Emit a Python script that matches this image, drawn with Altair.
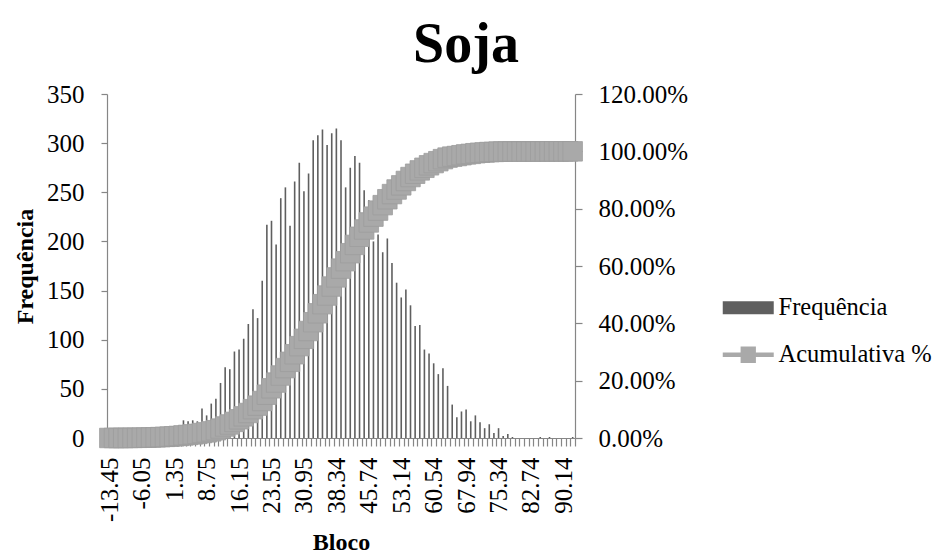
import json
import altair as alt
import pandas as pd

# ---- data ----
blocos = [
    "-13.45", "-12.39", "-11.34", "-10.28", "-9.22", "-8.16", "-7.11", "-6.05", "-4.99", "-3.94",
    "-2.88", "-1.82", "-0.77", "0.29", "1.35", "2.41", "3.46", "4.52", "5.58", "6.63",
    "7.69", "8.75", "9.80", "10.86", "11.92", "12.98", "14.03", "15.09", "16.15", "17.20",
    "18.26", "19.32", "20.37", "21.43", "22.49", "23.55", "24.60", "25.66", "26.72", "27.77",
    "28.83", "29.89", "30.95", "32.00", "33.06", "34.12", "35.17", "36.23", "37.29", "38.34",
    "39.40", "40.46", "41.52", "42.57", "43.63", "44.69", "45.74", "46.80", "47.86", "48.91",
    "49.97", "51.03", "52.09", "53.14", "54.20", "55.26", "56.31", "57.37", "58.43", "59.49",
    "60.54", "61.60", "62.66", "63.71", "64.77", "65.83", "66.88", "67.94", "69.00", "70.06",
    "71.11", "72.17", "73.23", "74.28", "75.34", "76.40", "77.45", "78.51", "79.57", "80.63",
    "81.68", "82.74", "83.80", "84.85", "85.91", "86.97", "88.02", "89.08", "90.14", "91.20",
    "92.25",
]

frequencia = [
    1, 0, 0, 1, 1, 1, 2, 3, 4, 5,
    6, 7, 8, 9, 11, 12, 18, 17, 18, 17,
    30, 23, 35, 40, 56, 72, 70, 88, 90, 101,
    116, 131, 122, 160, 217, 221, 197, 244, 255, 216,
    261, 280, 251, 269, 303, 308, 314, 298, 310, 315,
    303, 255, 275, 287, 280, 252, 242, 200, 207, 189,
    203, 178, 158, 143, 151, 135, 114, 115, 90, 86,
    76, 65, 71, 53, 34, 21, 27, 29, 17, 23,
    16, 10, 14, 5, 10, 2, 4, 1, 0, 0,
    0, 0, 0, 1, 0, 1, 0, 0, 0, 0,
    1,
]

rotulos_x = ["-13.45", "-6.05", "1.35", "8.75", "16.15", "23.55", "30.95", "38.34",
             "45.74", "53.14", "60.54", "67.94", "75.34", "82.74", "90.14"]
ticks_freq = [0, 50, 100, 150, 200, 250, 300, 350]
ticks_pct = [0, 0.2, 0.4, 0.6, 0.8, 1.0, 1.2]

df = pd.DataFrame({"Bloco": blocos, "Frequencia": frequencia, "ordem": list(range(len(blocos)))})
df["serie_barra"] = "Frequência"
df["serie_linha"] = "Acumulativa %"

FONT = "Liberation Serif"
AX = "#868686"
BAR = "#5f5f5f"
LINE = "#a9a9a9"

label_expr = "indexof(" + json.dumps(rotulos_x) + ", datum.label) >= 0 ? datum.label : ''"

x_enc = alt.X(
    "Bloco:N",
    sort=blocos,
    scale=alt.Scale(paddingInner=0, paddingOuter=0),
    axis=alt.Axis(
        title="Bloco", labelExpr=label_expr, labelAngle=270, labelOverlap=False,
        labelFlush=False, tickBand="extent", tickSize=8, labelPadding=11,
        titleX=234, titleY=104, titleBaseline="middle", titleAlign="center",
    ),
)

base = alt.Chart(df)

bars = base.mark_bar(size=1.6).encode(
    x=x_enc,
    y=alt.Y(
        "Frequencia:Q",
        scale=alt.Scale(domain=[0, 350], nice=False),
        axis=alt.Axis(
            values=ticks_freq, title="Frequência", orient="left", tickSize=6,
            labelPadding=17, titleAngle=270, titleX=-82, titleY=172,
            titleAlign="center", titleBaseline="middle",
        ),
    ),
    color=alt.Color(
        "serie_barra:N",
        scale=alt.Scale(range=[BAR]),
        legend=alt.Legend(
            title=None, orient="none", legendX=629, legendY=201.5,
            symbolType="M-2.5,-0.64H2.5V0.64H-2.5Z", symbolSize=416,
            symbolStrokeWidth=0, labelOffset=18, padding=0,
        ),
    ),
)

cum = base.transform_window(
    acum="sum(Frequencia)", sort=[alt.SortField("ordem")], frame=[None, 0]
).transform_joinaggregate(total="sum(Frequencia)").transform_calculate(
    pct="datum.acum / datum.total"
)

y_pct = alt.Y(
    "pct:Q",
    scale=alt.Scale(domain=[0, 1.2], nice=False),
    axis=alt.Axis(values=ticks_pct, format=".2%", title=None, orient="right",
                  tickSize=7, labelPadding=16),
)

line = cum.mark_line(color=LINE, strokeWidth=4).encode(x=x_enc, y=y_pct)

points = cum.mark_point(
    shape="square", filled=True, size=380, fill=LINE, stroke="#9d9d9d", strokeWidth=0.8
).encode(
    x=x_enc,
    y=y_pct,
    opacity=alt.Opacity(
        "serie_linha:N",
        scale=alt.Scale(range=[1, 1]),
        legend=alt.Legend(
            title=None, orient="none", legendX=629, legendY=248.5,
            symbolType="M-2.5,-0.22H2.5V0.22H-2.5Z M-0.75,-0.8H0.75V0.8H-0.75Z",
            symbolSize=416, symbolStrokeWidth=0, symbolFillColor=LINE,
            symbolOpacity=1, labelOffset=18, padding=0,
        ),
    ),
)

chart = alt.layer(bars, alt.layer(line, points)).resolve_scale(y="independent").properties(
    width=468,
    height=344,
    autosize=alt.AutoSizeParams(type="none"),
    padding={"left": 99, "top": 86, "right": 362, "bottom": 130},
    title=alt.TitleParams(
        "Soja", font=FONT, fontSize=56, fontWeight="bold", color="black",
        anchor="middle", frame="group", dx=125, dy=-4,
    ),
).configure_view(stroke=None).configure_axis(
    grid=False, domainColor=AX, tickColor=AX, domainWidth=1.2, tickWidth=1.2,
    labelFont=FONT, labelFontSize=25, labelColor="black",
    titleFont=FONT, titleFontSize=24, titleFontWeight="bold", titleColor="black",
).configure_legend(
    labelFont=FONT, labelFontSize=24.5, labelColor="black",
)

chart.save("out.html", embed_options={"renderer": "svg", "actions": False})
